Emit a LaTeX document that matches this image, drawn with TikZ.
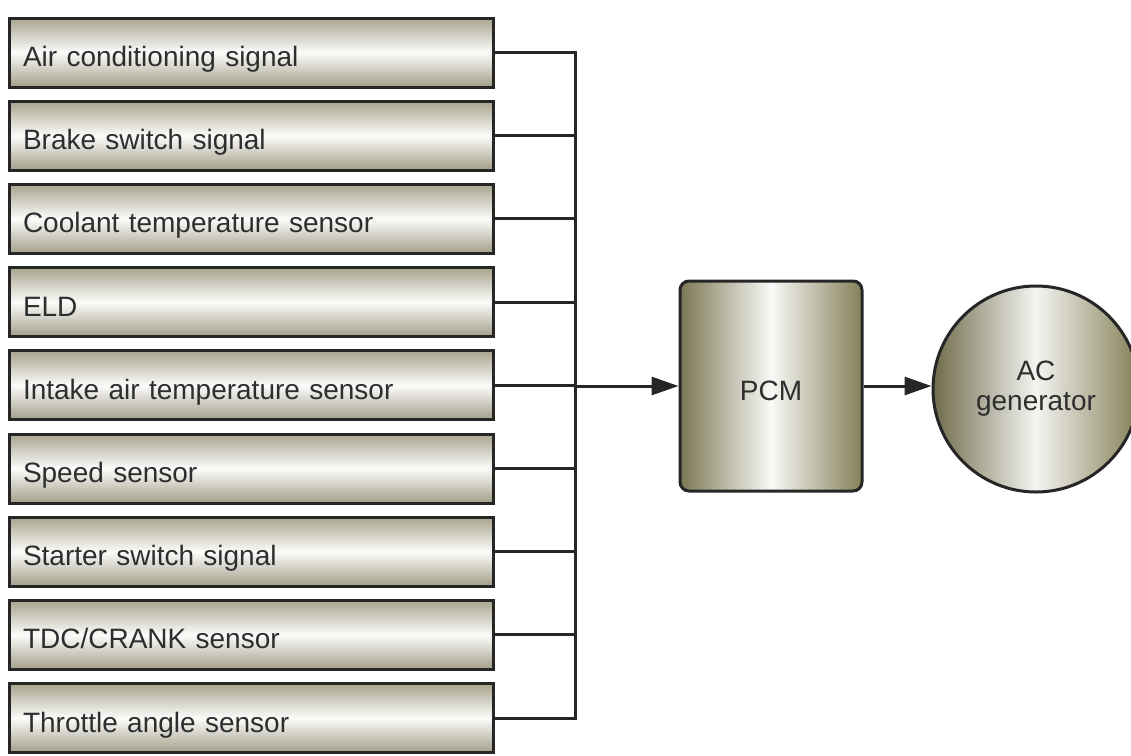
\documentclass[tikz,border=0pt]{standalone}
\usepackage{fontspec}
\setmainfont{Liberation Sans}
\usetikzlibrary{arrows.meta}
\definecolor{edge}{HTML}{262626}
\definecolor{txt}{HTML}{2E2E2E}
\definecolor{boxdark}{HTML}{A8A48E}
\definecolor{boxdarkb}{HTML}{A29E88}
\definecolor{olive}{HTML}{7C7854}
\definecolor{oliveb}{HTML}{858058}
\tikzset{
  x=1pt, y=-1pt,
  inbox/.style={draw=edge, line width=3pt, rectangle, minimum width=484pt,
    minimum height=69pt, text width=456pt, align=left, inner xsep=14pt,
    text height=30pt, text depth=2pt,
    top color=boxdark, bottom color=boxdarkb, middle color=white!96!boxdark,
    text=txt, font=\fontsize{28}{32}\selectfont},
  pcmbox/.style={draw=edge, line width=3pt, rectangle, rounded corners=9pt,
    minimum width=182pt, minimum height=210pt, text height=30pt, text depth=2pt,
    left color=olive, right color=oliveb, middle color=white!95!olive,
    text=txt, font=\fontsize{28}{32}\selectfont},
  genbox/.style={draw=edge, line width=3pt, circle, minimum size=206pt, inner sep=0pt,
    left color=olive!90!black, right color=oliveb, middle color=white!92!olive,
    text=txt, align=center, font=\fontsize{28}{30}\selectfont},
  wire/.style={draw=edge, line width=3pt},
  arr/.style={wire, -{Triangle[length=27pt,width=18pt]}}
}
\begin{document}
\begin{tikzpicture}
\useasboundingbox (0,0) rectangle (1131,755);
\fill[white] (0,0) rectangle (1131,755);
\begin{scope}
\clip (0,0) rectangle (1131,755);
\foreach \t [count=\i from 0] in {Air conditioning signal, Brake switch signal,
  Coolant temperature sensor, ELD, Intake air temperature sensor, Speed sensor,
  Starter switch signal, TDC/CRANK sensor, Throttle angle sensor}{
  \node[inbox] (b\i) at (251, 52.5+83.2*\i) {\t};
}
\coordinate (bus) at (575,0);
\node[pcmbox] (pcm) at (771,386) {PCM};
\node[genbox] (gen) at (1036,389) {AC\\generator};
\foreach \i in {0,...,8}{
  \draw[wire] (b\i.east) -- (b\i.east -| bus);
}
\draw[wire, line cap=rect] (b0.east -| bus) -- (b8.east -| bus);
\draw[arr] (bus |- pcm.west) -- (pcm.west);
\draw[arr] (pcm.east) -- (pcm.east -| gen.west);
\end{scope}
\end{tikzpicture}
\end{document}
